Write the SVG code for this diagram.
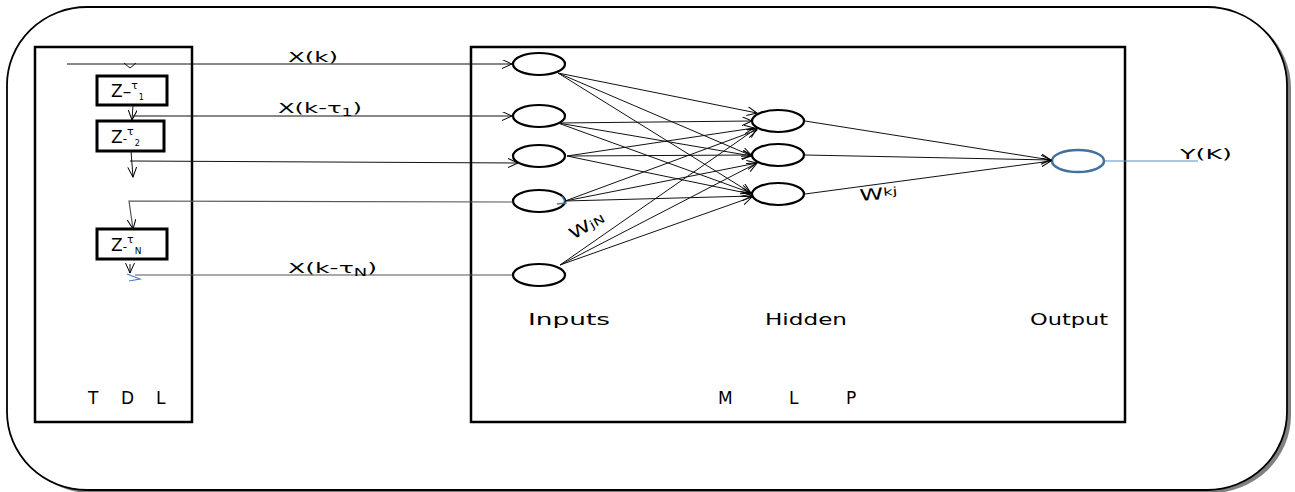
<svg xmlns="http://www.w3.org/2000/svg" width="1295" height="492" viewBox="0 0 1295 492">
  <style>
    text { font-family: "DejaVu Sans", "Liberation Sans", sans-serif; fill: #000; }
    .box { fill: #fff; stroke: #000; stroke-width: 2.5; }
    .zbox { fill: #fff; stroke: #000; stroke-width: 3; }
    .node { fill: #fff; stroke: #000; stroke-width: 2.2; }
    .ln { fill: none; stroke: #111; stroke-width: 1; }
    .lg { fill: none; stroke: #555; stroke-width: 1.2; }
    .arr { marker-end: url(#ah); }
  </style>
  <defs>
    <marker id="ah" markerUnits="userSpaceOnUse" markerWidth="12" markerHeight="10" refX="10" refY="4.5" orient="auto">
      <path d="M0,0 L10,4.5 L0,9" fill="none" stroke="#000" stroke-width="1"/>
    </marker>
  </defs>

  <!-- outer frame with shadow -->
  <g id="frame">
    <rect x="11" y="10" width="1280" height="483" rx="80" ry="78" fill="#808080"/>
    <rect x="7" y="7" width="1280" height="483" rx="80" ry="78" fill="#fff" stroke="#000" stroke-width="1.8"/>
  </g>

  <!-- TDL block -->
  <g id="tdl">
    <rect class="box" x="35" y="47" width="157" height="375"/>
    <text x="88 121 156" y="404" font-size="17">TDL</text>
  </g>

  <!-- MLP block -->
  <g id="mlp">
    <rect class="box" x="471" y="47" width="654" height="375"/>
    <text x="718 789 846" y="404" font-size="17">MLP</text>
  </g>

  <g id="z1">
    <rect class="zbox" x="97" y="76" width="70" height="29"/>
    <text x="111" y="97" font-size="17">Z<tspan>–</tspan><tspan font-size="11" dy="-8">τ</tspan><tspan font-size="8" dx="1" dy="11">1</tspan></text>
  </g>
  <g id="z2">
    <rect class="zbox" x="97" y="121" width="67" height="30"/>
    <text x="111" y="143" font-size="17">Z<tspan font-size="12">-</tspan><tspan font-size="11" dy="-8">τ</tspan><tspan font-size="8" dx="1" dy="11">2</tspan></text>
  </g>
  <g id="zN">
    <rect class="zbox" x="97" y="229" width="70" height="30"/>
    <text x="111" y="251" font-size="17">Z<tspan font-size="12">-</tspan><tspan font-size="11" dy="-8">τ</tspan><tspan font-size="9" dx="1" dy="11">N</tspan></text>
  </g>

  <!-- input nodes -->
  <g id="in1"><ellipse class="node" cx="539" cy="64" rx="26" ry="11"/></g>
  <g id="in2"><ellipse class="node" cx="539" cy="116" rx="26" ry="11"/></g>
  <g id="in3"><ellipse class="node" cx="539" cy="156" rx="26" ry="11"/></g>
  <g id="in4"><ellipse class="node" cx="539" cy="201" rx="26" ry="11"/></g>
  <g id="in5"><ellipse class="node" cx="539" cy="275" rx="26" ry="11"/></g>

  <!-- hidden nodes -->
  <g id="h1"><ellipse class="node" cx="778" cy="121" rx="26" ry="11"/></g>
  <g id="h2"><ellipse class="node" cx="778" cy="155" rx="26" ry="11"/></g>
  <g id="h3"><ellipse class="node" cx="778" cy="194" rx="26" ry="11"/></g>

  <!-- output node -->
  <g id="out"><ellipse cx="1078" cy="161" rx="26" ry="11" fill="#fff" stroke="#41719C" stroke-width="2.5"/></g>

  <!-- connectors -->
  <g id="connectors">
    <!-- TDL side -->
    <path class="ln arr" d="M67,64 L512,64"/>
    <path class="ln" d="M124,63 L130,68 L136,63"/>
    <path class="ln arr" d="M133,105 L132,120"/>
    <path class="ln arr" d="M133,116 L512,116"/>
    <path class="ln arr" d="M131,151 L133,177"/>
    <path class="ln arr" d="M130,161 L518,163"/>
    <path class="lg arr" d="M512,202 L129,201 L133,229"/>
    <path class="ln arr" d="M130,264 L130,273"/>
    <path class="lg" d="M512,275 L135,275"/>
    <path d="M127,274 L140,279 L129,281" fill="none" stroke="#4A7EBB" stroke-width="1.2"/>
    <path d="M557,204 L566,203 L562,196" fill="none" stroke="#4A7EBB" stroke-width="1.5"/>

    <!-- input to hidden -->
    <path class="ln arr" d="M558,73 L757,113"/>
    <path class="ln arr" d="M558,73 L752,156"/>
    <path class="ln arr" d="M558,73 L751,193"/>
    <path class="ln arr" d="M558,123 L752,121"/>
    <path class="ln arr" d="M558,123 L752,156"/>
    <path class="ln arr" d="M558,123 L751,193"/>
    <path class="ln arr" d="M567,156 L754,128"/>
    <path class="ln arr" d="M567,156 L752,155"/>
    <path class="ln arr" d="M567,156 L751,194"/>
    <path class="ln arr" d="M565,201 L757,130"/>
    <path class="ln arr" d="M565,201 L757,163"/>
    <path class="ln arr" d="M565,201 L752,196"/>
    <path class="ln arr" d="M560,265 L757,128"/>
    <path class="ln arr" d="M560,265 L757,163"/>
    <path class="ln arr" d="M560,265 L752,197"/>

    <!-- hidden to output -->
    <path class="ln arr" d="M805,121 L1051,160"/>
    <path class="ln arr" d="M805,155 L1051,160"/>
    <path class="ln arr" d="M805,194 L1051,161"/>

    <path d="M1105,161 L1198,161" fill="none" stroke="#5B8BC8" stroke-width="1.2"/>
  </g>

  <!-- labels -->
  <g id="labels">
    <text x="288" y="62" font-size="14" textLength="50" lengthAdjust="spacingAndGlyphs">X(k)</text>
    <text x="278" y="113" font-size="14" textLength="84" lengthAdjust="spacingAndGlyphs">X(k-τ<tspan font-size="10" dy="3">1</tspan><tspan dy="-3">)</tspan></text>
    <text x="288" y="273" font-size="14" textLength="89" lengthAdjust="spacingAndGlyphs">X(k-τ<tspan font-size="10" dy="3">N</tspan><tspan dy="-3">)</tspan></text>
    <text x="1180" y="159" font-size="14" textLength="52" lengthAdjust="spacingAndGlyphs">Y(K)</text>
    <text x="528" y="325" font-size="15" textLength="82" lengthAdjust="spacingAndGlyphs">Inputs</text>
    <text x="765" y="325" font-size="15" textLength="82" lengthAdjust="spacingAndGlyphs">Hidden</text>
    <text x="1030" y="325" font-size="15" textLength="78" lengthAdjust="spacingAndGlyphs">Output</text>
    <text x="860" y="201" font-size="16" transform="rotate(-5 860 201)" textLength="38" lengthAdjust="spacingAndGlyphs">W<tspan font-size="11" dy="-3">kj</tspan></text>
    <text x="573" y="240" font-size="16" transform="rotate(-30 573 240)" textLength="38" lengthAdjust="spacingAndGlyphs">W<tspan font-size="11">jN</tspan></text>
  </g>
</svg>
